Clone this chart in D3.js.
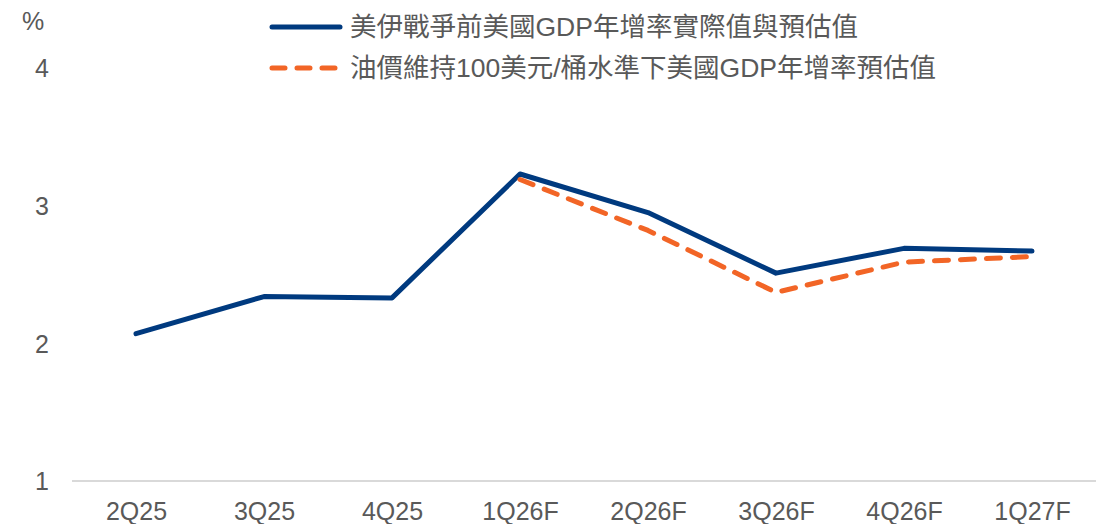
<!DOCTYPE html>
<html>
<head>
<meta charset="utf-8">
<script src="https://cdn.jsdelivr.net/npm/d3@7"></script>
<style>
  body { margin: 0; background: #fff; }
  svg text { font-family: "Liberation Sans", Arial, "Noto Sans CJK TC", sans-serif; fill: #595959; }
</style>
</head>
<body>
<svg id="chart" width="1104" height="524"></svg>
<script>
  var categories = ['2Q25', '3Q25', '4Q25', '1Q26F', '2Q26F', '3Q26F', '4Q26F', '1Q27F'];
  // 美伊戰爭前美國GDP年增率實際值與預估值
  var baseValues = [2.07, 2.34, 2.33, 3.23, 2.95, 2.51, 2.69, 2.67];
  // 油價維持100美元/桶水準下美國GDP年增率預估值
  var oilValues = [null, null, null, 3.19, 2.82, 2.37, 2.59, 2.63];
  var yTicks = [1, 2, 3, 4];
  var legendLabels = ['美伊戰爭前美國GDP年增率實際值與預估值', '油價維持100美元/桶水準下美國GDP年增率預估值'];

  var BLUE = '#003a7f';
  var ORANGE = '#f26526';

  var svg = d3.select('#chart');

  var x = d3.scalePoint()
    .domain(categories)
    .range([136, 1032]);

  var y = d3.scaleLinear()
    .domain([1, 4])
    .range([481, 68]);

  // x 軸底線
  svg.append('line')
    .attr('x1', 72).attr('x2', 1096)
    .attr('y1', y(1)).attr('y2', y(1))
    .attr('stroke', '#d9d9d9')
    .attr('stroke-width', 2);

  // y 軸刻度
  var yAxis = d3.axisLeft(y).tickValues(yTicks).tickFormat(d3.format('d')).tickSize(0).tickPadding(0);
  var gy = svg.append('g')
    .attr('transform', 'translate(49,0)')
    .call(yAxis);
  gy.select('.domain').remove();
  gy.selectAll('text')
    .attr('font-size', 25)
    .attr('dy', '0.35em')
    .style('font-family', '"Liberation Sans", Arial, sans-serif')
    .style('fill', '#595959');

  svg.append('text')
    .attr('x', 33).attr('y', 21)
    .attr('text-anchor', 'middle')
    .attr('dy', '0.35em')
    .attr('font-size', 25)
    .text('%');

  // x 軸刻度
  var xAxis = d3.axisBottom(x).tickSize(0).tickPadding(0);
  var gx = svg.append('g')
    .attr('transform', 'translate(0,511)')
    .call(xAxis);
  gx.select('.domain').remove();
  gx.selectAll('text')
    .attr('font-size', 25)
    .attr('dy', '0.35em')
    .attr('y', 0)
    .style('font-family', '"Liberation Sans", Arial, sans-serif')
    .style('fill', '#595959');

  var line = d3.line()
    .defined(function(d) { return d != null; })
    .x(function(d, i) { return x(categories[i]); })
    .y(function(d) { return y(d); });

  svg.append('path')
    .datum(baseValues)
    .attr('d', line)
    .attr('fill', 'none')
    .attr('stroke', BLUE)
    .attr('stroke-width', 5)
    .attr('stroke-linejoin', 'round')
    .attr('stroke-linecap', 'round');

  svg.append('path')
    .datum(oilValues)
    .attr('d', line)
    .attr('fill', 'none')
    .attr('stroke', ORANGE)
    .attr('stroke-width', 5)
    .attr('stroke-dasharray', '14,12')
    .attr('stroke-linejoin', 'round')
    .attr('stroke-linecap', 'round');

  // 圖例
  var legend = svg.append('g');
  var rows = [
    { label: legendLabels[0], color: BLUE, dash: null, y: 27 },
    { label: legendLabels[1], color: ORANGE, dash: '13,12', y: 68 }
  ];
  rows.forEach(function(r) {
    legend.append('line')
      .attr('x1', 272).attr('x2', 340)
      .attr('y1', r.y).attr('y2', r.y)
      .attr('stroke', r.color)
      .attr('stroke-width', 5)
      .attr('stroke-linecap', 'round')
      .attr('stroke-dasharray', r.dash);
    legend.append('text')
      .attr('x', 350).attr('y', r.y)
      .attr('dy', '0.35em')
      .attr('font-size', 26.5)
      .text(r.label);
  });
</script>
</body>
</html>
